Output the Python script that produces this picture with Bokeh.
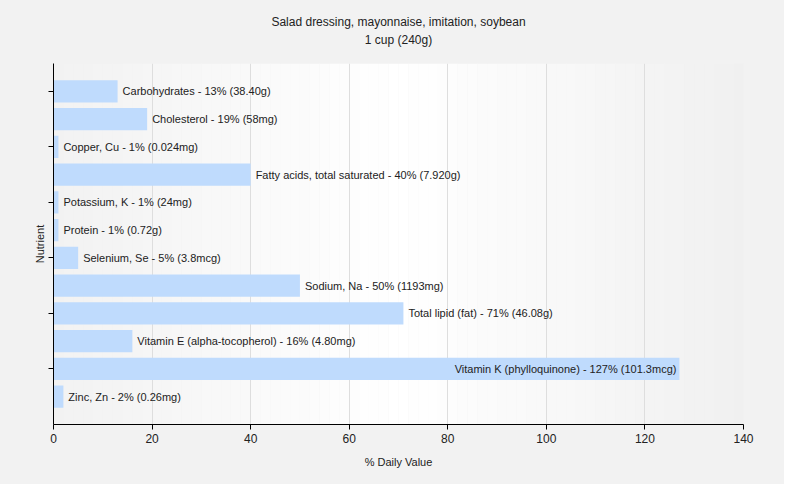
from bokeh.plotting import figure
from bokeh.models import ColumnDataSource, Range1d, FixedTicker
from bokeh.layouts import column
from bokeh.core.properties import value
from bokeh.embed import file_html
from bokeh.resources import INLINE
import numpy as np

nutrients = [
    "Carbohydrates", "Cholesterol", "Copper, Cu", "Fatty acids, total saturated",
    "Potassium, K", "Protein", "Selenium, Se", "Sodium, Na", "Total lipid (fat)",
    "Vitamin E (alpha-tocopherol)", "Vitamin K (phylloquinone)", "Zinc, Zn",
]
daily_values = [13, 19, 1, 40, 1, 1, 5, 50, 71, 16, 127, 2]
amounts = ["38.40g", "58mg", "0.024mg", "7.920g", "24mg", "0.72g", "3.8mcg",
           "1193mg", "46.08g", "4.80mg", "101.3mcg", "0.26mg"]
x_ticks = [0, 20, 40, 60, 80, 100, 120, 140]
title_lines = ["Salad dressing, mayonnaise, imitation, soybean", "1 cup (240g)"]

FONT = "Liberation Sans"
TXT = "#222222"
BG = "#f2f2f2"

W, H = 784, 484
TOP = 63          # height of the title strip
BL, BR, BB = 53, 41, 60

# ---- title strip (its own small figure, pixel coordinates) ----
t = figure(width=W, height=TOP, output_backend="svg", toolbar_location=None,
           x_range=Range1d(0, W), y_range=Range1d(TOP, 0),
           min_border=0, x_axis_type=None, y_axis_type=None)
t.background_fill_color = BG
t.border_fill_color = BG
t.outline_line_color = None
t.xgrid.grid_line_color = None
t.ygrid.grid_line_color = None
t.text(x=[W * 0.5, W * 0.5], y=[21.5, 39.2], text=title_lines,
       text_align="center", text_baseline="middle", text_font_size="12px",
       text_font=value(FONT), text_color=TXT)

# ---- main chart ----
pos = list(range(len(nutrients)))
labels = [f"{n} - {v}% ({a})" for n, v, a in zip(nutrients, daily_values, amounts)]
inside = [v > 100 for v in daily_values]
src = ColumnDataSource(dict(
    y=pos, v=daily_values, label=labels,
    align=["right" if i else "left" for i in inside],
    off=[-3 if i else 5 for i in inside],
))

p = figure(width=W, height=H - TOP, output_backend="svg", toolbar_location=None,
           x_range=Range1d(0, 140), y_range=Range1d(12, -1),
           min_border_left=BL, min_border_right=BR, min_border_top=0,
           min_border_bottom=BB)
p.background_fill_color = BG
p.border_fill_color = BG
p.outline_line_color = None

# background gradient (grey -> white -> grey)
n = 70
edges = np.linspace(0, 140, n + 1)
mids = (edges[:-1] + edges[1:]) / 2
def shade(x):
    if x < 70:
        c = 242 + (255 - 242) * (x / 70)
    else:
        c = 255 + (240 - 255) * ((x - 70) / 70)
    c = int(round(c))
    return "#%02x%02x%02x" % (c, c, c)
p.quad(left=edges[:-1], right=edges[1:], bottom=12, top=-1,
       fill_color=[shade(m) for m in mids], line_color=None, level="image")

p.hbar(y="y", right="v", left=0, height=0.8, source=src,
       fill_color="#bfdbfd", line_color=None)
p.text(x="v", y="y", text="label", source=src, text_align="align",
       x_offset="off", text_baseline="middle", text_font_size="11px",
       text_font=value(FONT), text_color=TXT)

p.xgrid.ticker = FixedTicker(ticks=x_ticks)
p.xgrid.grid_line_color = "#dedede"
p.ygrid.grid_line_color = None

p.xaxis.ticker = FixedTicker(ticks=x_ticks)
p.xaxis.axis_label = "% Daily Value"
p.yaxis.ticker = FixedTicker(ticks=[0, 2, 4, 6, 8, 10])
p.yaxis.major_label_overrides = {i: "" for i in range(12)}
p.yaxis.axis_label = "Nutrient"
for ax in (p.xaxis, p.yaxis):
    ax.axis_line_color = "black"
    ax.major_tick_line_color = "black"
    ax.major_tick_out = 5
    ax.major_tick_in = 0
    ax.minor_tick_line_color = None
    ax.major_label_text_font = FONT
    ax.major_label_text_font_size = "12px"
    ax.major_label_text_color = TXT
    ax.axis_label_text_font = FONT
    ax.axis_label_text_font_size = "11px"
    ax.axis_label_text_font_style = "normal"
    ax.axis_label_text_color = TXT
p.xaxis.major_label_standoff = 4
p.xaxis.axis_label_standoff = 10
p.yaxis.major_label_standoff = 0
p.yaxis.axis_label_standoff = 3

layout = column(t, p, spacing=0)
layout.styles = {"background-color": BG}
open("out.html", "w").write(file_html(layout, INLINE))
